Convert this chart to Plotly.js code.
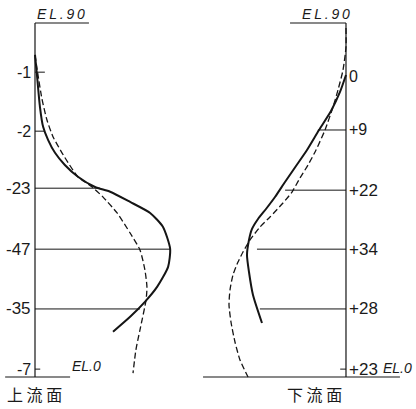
<!DOCTYPE html>
<html>
<head>
<meta charset="utf-8">
<script src="https://cdn.plot.ly/plotly-3.0.1.min.js"></script>
<style>html,body{margin:0;padding:0;background:#fff;}#chart{width:416px;height:409px;}</style>
</head>
<body>
<div id="chart"></div>
<script>
// ---------- DATA ----------
// Upstream face (上流面): displacement values (negative), elevation in m
const upElev      = [77.5, 62.5, 48, 32.5, 17.3, 2];
const upValues    = [-1, -2, -23, -47, -35, -7];
const upLabels    = ['-1', '-2', '-23', '-47', '-35', '-7'];
const upLeaderEnd = [-3.4, -3.4, -22.4, -46.6, -36.2, -1.8];

const upSolidX = [0, -0.6, -1.7, -2.8, -4.5, -6.9, -10.3, -14.8, -20.7, -25.9, -32.8, -39.7, -44.1, -46.6, -45.9, -42.1, -37.9, -32.8, -26.9];
const upSolidY = [81.9, 77.4, 68.7, 63.6, 60.3, 57.0, 53.9, 50.9, 48.3, 47.1, 44.5, 41.7, 38.2, 32.6, 28.0, 22.9, 19.1, 15.3, 11.5];
const upDashX  = [0, -0.9, -2.4, -4.1, -6.2, -9.3, -11.4, -14.8, -19.7, -23.4, -28.3, -32.8, -36.2, -37.9, -38.6, -38.3, -36.2, -34.8, -33.8];
const upDashY  = [81.9, 77.4, 70.7, 65.4, 61.1, 57.0, 54.5, 50.9, 48.3, 45.8, 41.7, 36.6, 32.3, 27.2, 22.9, 19.6, 12.0, 6.9, 1.0];

// Downstream face (下流面)
const dnElev      = [76.5, 62.8, 47.5, 32.5, 17.3, 2];
const dnValues    = [0, 9, 22, 34, 28, 23];
const dnLabels    = ['0', '+9', '+22', '+34', '+28', '+23'];
const dnLeaderEnd = [0, 9.7, 21, 30.7, 29.7, 2];

const dnSolidX = [0, 2.07, 5.17, 9.31, 13.45, 17.24, 21.03, 24.48, 27.59, 30.34, 32.41, 33.45, 34.14, 33.45, 32.07, 28.97];
const dnSolidY = [76.78, 72.46, 67.63, 62.80, 57.71, 53.64, 49.58, 45.76, 42.71, 40.17, 37.63, 34.83, 31.02, 26.69, 20.85, 13.73];
const dnDashX  = [0, 0, 1.03, 2.76, 4.48, 7.24, 10.34, 13.10, 15.86, 18.62, 21.72, 26.21, 29.66, 33.10, 35.52, 37.24, 38.97, 40.0, 40.34, 39.66, 38.28, 36.55, 33.79];
const dnDashY  = [88.73, 83.90, 78.05, 72.97, 68.64, 62.80, 57.71, 53.90, 50.59, 47.03, 44.24, 40.68, 38.14, 34.83, 31.78, 29.24, 25.93, 22.12, 18.31, 13.98, 8.90, 4.32, 0];

// Elevation frame
const elTop = 90, elBottom = 0;
const upTopLine = [0, -18.6], dnTopLine = [0, 19.3];
const upBottomLine = [10.3, -12.1], dnBottomLine = [49.3, -18.6];

// ---------- BUILD ----------
const ink = '#151515';
const sm = 0.6;
const traces = [
  {x: upSolidX, y: upSolidY, xaxis: 'x', yaxis: 'y', mode: 'lines', line: {color: ink, width: 2, shape: 'spline', smoothing: sm}},
  {x: upDashX, y: upDashY, xaxis: 'x', yaxis: 'y', mode: 'lines', line: {color: ink, width: 1.3, dash: '6px,3px', shape: 'spline', smoothing: sm}},
  {x: dnSolidX, y: dnSolidY, xaxis: 'x2', yaxis: 'y', mode: 'lines', line: {color: ink, width: 2, shape: 'spline', smoothing: sm}},
  {x: dnDashX, y: dnDashY, xaxis: 'x2', yaxis: 'y', mode: 'lines', line: {color: ink, width: 1.3, dash: '6px,3px', shape: 'spline', smoothing: sm}}
];

const shapes = [];
function seg(xref, x0, y0, x1, y1, w) {
  shapes.push({type: 'line', xref: xref, yref: 'y', x0: x0, y0: y0, x1: x1, y1: y1, line: {color: ink, width: w || 1}});
}
seg('x', 0, elBottom, 0, elTop, 1.2);
seg('x2', 0, elBottom, 0, elTop, 1.2);
seg('x', upTopLine[0], elTop, upTopLine[1], elTop, 1.2);
seg('x2', dnTopLine[0], elTop, dnTopLine[1], elTop, 1.2);
seg('x', upBottomLine[0], elBottom, upBottomLine[1], elBottom, 1.2);
seg('x2', dnBottomLine[0], elBottom, dnBottomLine[1], elBottom, 1.2);
upElev.forEach((e, i) => seg('x', 0, e, upLeaderEnd[i], e, 1));
dnElev.forEach((e, i) => { if (dnLeaderEnd[i] !== 0) seg('x2', 0, e, dnLeaderEnd[i], e, 1); });

const fam = 'Liberation Sans, Arial, sans-serif';
function numFont(t) { return {family: fam, size: t.replace(/[-+]/, '').length > 1 ? 17 : 16, color: '#1a1a1a'}; }
const elFont = {family: fam, size: 14, color: '#1a1a1a'};
const sp = '\u2009';
function spaced(s) { return s.split('').join(sp); }

const annotations = [];
upElev.forEach((e, i) => annotations.push({xref: 'x', yref: 'y', x: 0, y: e, text: upLabels[i], showarrow: false, xanchor: 'right', yanchor: 'middle', xshift: -2, font: numFont(upLabels[i])}));
dnElev.forEach((e, i) => annotations.push({xref: 'x2', yref: 'y', x: 0, y: e, text: dnLabels[i], showarrow: false, xanchor: 'left', yanchor: 'middle', xshift: 1, font: numFont(dnLabels[i])}));
annotations.push({xref: 'x', yref: 'y', x: 0, y: elTop, text: '<i>' + spaced('EL.90') + '</i>', showarrow: false, xanchor: 'left', yanchor: 'bottom', yshift: -1, font: elFont});
annotations.push({xref: 'x2', yref: 'y', x: 0, y: elTop, text: '<i>' + spaced('EL.90') + '</i>', showarrow: false, xanchor: 'right', yanchor: 'bottom', xshift: 6, yshift: -1, font: elFont});
annotations.push({xref: 'x', yref: 'y', x: -12.1, y: 2.8, text: '<i>EL.0</i>', showarrow: false, xanchor: 'left', yanchor: 'middle', font: elFont});
annotations.push({xref: 'x2', yref: 'y', x: -11.7, y: 2.2, text: '<i>EL.0</i>', showarrow: false, xanchor: 'left', yanchor: 'middle', xshift: 1, font: elFont});
const cjk = {family: 'Noto Sans CJK JP, sans-serif', size: 16, color: '#1a1a1a'};
annotations.push({xref: 'x', yref: 'y', x: 10.3, y: -4.2, text: '上 流 面', showarrow: false, xanchor: 'left', yanchor: 'middle', font: cjk});
annotations.push({xref: 'x2', yref: 'y', x: 21.0, y: -4.2, text: '下 流 面', showarrow: false, xanchor: 'left', yanchor: 'middle', font: cjk});

const layout = {
  width: 416, height: 409,
  margin: {l: 0, r: 0, t: 0, b: 0},
  paper_bgcolor: '#fff', plot_bgcolor: '#fff',
  showlegend: false,
  xaxis: {range: [12.07, -131.38], visible: false, domain: [0, 1], fixedrange: true},
  xaxis2: {range: [119.31, -24.14], visible: false, overlaying: 'x', fixedrange: true},
  yaxis: {range: [-8.14, 95.85], visible: false, fixedrange: true},
  shapes: shapes,
  annotations: annotations
};
Plotly.newPlot('chart', traces, layout, {displayModeBar: false, staticPlot: true});
</script>
</body>
</html>
